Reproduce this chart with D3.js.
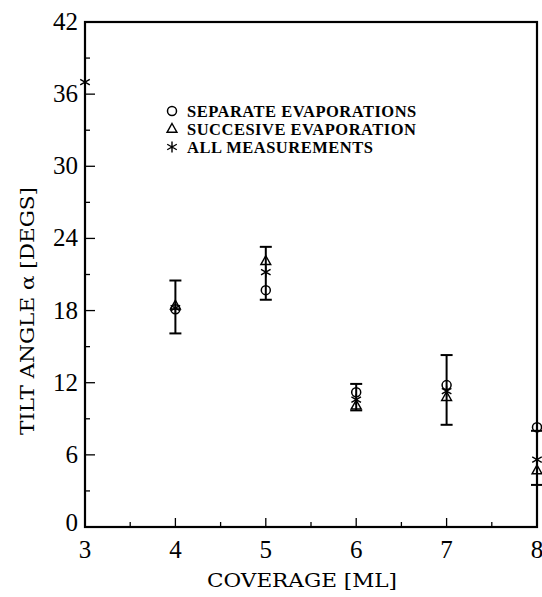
<!DOCTYPE html>
<html><head><meta charset="utf-8">
<script src="https://cdn.jsdelivr.net/npm/d3@7"></script>
<style>body{margin:0;background:#fff}
text{fill:#000}
.serif{font-family:"Liberation Serif","Times New Roman","DejaVu Serif",serif}
.mono{font-family:"DejaVu Serif",serif}
</style>
</head><body>
<svg id="c" width="542" height="597"></svg>
<script>
const xTicks = [3,4,5,6,7,8];
const yTicks = [0,6,12,18,24,30,36,42];
const sepX = [4,5,6,7,8];
const sepY = [18.1,19.7,11.2,11.8,8.3];
const sucX = [4,5,6,7,8];
const sucY = [18.4,22.1,10.1,10.8,4.7];
const allX = [3,4,5,6,7,8];
const allY = [37.0,18.2,21.2,10.6,11.3,5.6];
const errLo = [null,16.1,18.9,9.7,8.5,3.5];
const errHi = [null,20.5,23.3,11.9,14.3,8.0];
const legendLabels = ["SEPARATE EVAPORATIONS","SUCCESIVE EVAPORATION","ALL MEASUREMENTS"];

const svg = d3.select("#c");
const L=85,R=537,T=22,B=527;
const x = d3.scaleLinear().domain([3,8]).range([L,R]);
const y = d3.scaleLinear().domain([0,42]).range([B,T]);

const g = svg.append("g").attr("stroke","#000");
d3.range(3,8.01,0.5).forEach(v=>{
  const major = Math.abs(v-Math.round(v))<1e-6;
  g.append("line").attr("x1",x(v)).attr("x2",x(v)).attr("y1",B).attr("y2",B-(major?9:5)).attr("stroke-width",1.3);
});
d3.range(0,42.01,3).forEach(v=>{
  const major = v%6===0;
  g.append("line").attr("x1",L).attr("x2",L+(major?10:5)).attr("y1",y(v)).attr("y2",y(v)).attr("stroke-width",1.3);
});
svg.append("rect").attr("x",L).attr("y",T).attr("width",R-L).attr("height",B-T)
  .attr("fill","none").attr("stroke","#000").attr("stroke-width",2.2);

svg.append("g").selectAll("text").data(xTicks).join("text").attr("class","serif")
  .attr("x",d=>x(d)).attr("y",B+31).attr("text-anchor","middle")
  .attr("font-size",25).text(d=>d);
svg.append("g").selectAll("text").data(yTicks).join("text").attr("class","serif")
  .attr("x",L-7).attr("y",d=>y(d)+(d===0?4:8)).attr("text-anchor","end")
  .attr("font-size",25).text(d=>d);

svg.append("text").attr("class","mono").attr("x",207).attr("y",587)
  .attr("font-size",19).attr("textLength",190).attr("lengthAdjust","spacingAndGlyphs").text("COVERAGE [ML]");
svg.append("text").attr("class","mono").attr("transform","translate(34,435) rotate(-90)")
  .attr("font-size",19).attr("textLength",248).attr("lengthAdjust","spacingAndGlyphs").text("TILT ANGLE α [DEGS]");

const eb = svg.append("g").attr("stroke","#000").attr("stroke-width",2);
allX.forEach((xv,i)=>{
  if(errLo[i]==null) return;
  eb.append("line").attr("x1",x(xv)).attr("x2",x(xv)).attr("y1",y(errLo[i])).attr("y2",y(errHi[i]));
  [errLo[i],errHi[i]].forEach(v=>eb.append("line").attr("x1",x(xv)-6).attr("x2",x(xv)+6).attr("y1",y(v)).attr("y2",y(v)));
});

function circle(gg,cx,cy){gg.append("circle").attr("cx",cx).attr("cy",cy).attr("r",4.5).attr("fill","none").attr("stroke","#000").attr("stroke-width",1.5);}
function tri(gg,cx,cy){const s=5.5;gg.append("path").attr("d",`M${cx},${cy-s}L${cx+s*0.9},${cy+s*0.6}L${cx-s*0.9},${cy+s*0.6}Z`).attr("fill","none").attr("stroke","#000").attr("stroke-width",1.4);}
function star(gg,cx,cy){const s=5.5;gg.append("path").attr("d",`M${cx},${cy-s}V${cy+s}M${cx-s*0.87},${cy-s*0.5}L${cx+s*0.87},${cy+s*0.5}M${cx-s*0.87},${cy+s*0.5}L${cx+s*0.87},${cy-s*0.5}`).attr("stroke","#000").attr("stroke-width",1.4);}

const m = svg.append("g");
sepX.forEach((v,i)=>circle(m,x(v),y(sepY[i])));
sucX.forEach((v,i)=>tri(m,x(v),y(sucY[i])));
allX.forEach((v,i)=>star(m,x(v),y(allY[i])));

const lg = svg.append("g");
const fns=[circle,tri,star];
legendLabels.forEach((t,i)=>{
  const yy=111+i*18;
  fns[i](lg,172,yy);
  lg.append("text").attr("class","serif").attr("x",187).attr("y",yy+6)
    .attr("font-size",16.5).attr("font-weight","bold").attr("letter-spacing",0.5).text(t);
});
</script>
</body></html>
